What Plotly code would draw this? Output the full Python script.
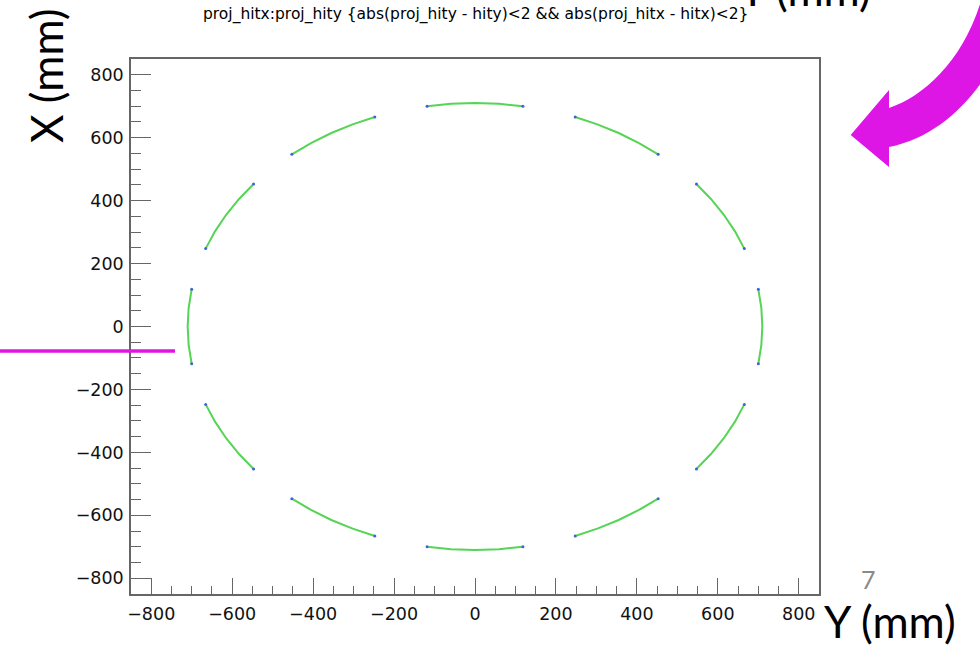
import plotly.graph_objects as go

# Projected hit positions (mm) along the 12 detector arcs.
# Each arc is listed from one end to the other; horizontal axis = proj_hity, vertical = proj_hitx
arc_hity = [
    [-118.4, -59.4, 0.0, 59.4, 118.4],
    [247.5, 302.3, 355.0, 405.2, 452.6],
    [547.1, 583.0, 614.9, 642.4, 665.5],
    [700.1, 707.5, 710.0, 707.5, 700.1],
    [665.5, 642.4, 614.9, 583.0, 547.1],
    [452.6, 405.2, 355.0, 302.3, 247.5],
    [118.4, 59.4, 0.0, -59.4, -118.4],
    [-247.5, -302.3, -355.0, -405.2, -452.6],
    [-547.1, -583.0, -614.9, -642.4, -665.5],
    [-700.1, -707.5, -710.0, -707.5, -700.1],
    [-665.5, -642.4, -614.9, -583.0, -547.1],
    [-452.6, -405.2, -355.0, -302.3, -247.5],
]
arc_hitx = [
    [700.1, 707.5, 710.0, 707.5, 700.1],
    [665.5, 642.4, 614.9, 583.0, 547.1],
    [452.6, 405.2, 355.0, 302.3, 247.5],
    [118.4, 59.4, 0.0, -59.4, -118.4],
    [-247.5, -302.3, -355.0, -405.2, -452.6],
    [-547.1, -583.0, -614.9, -642.4, -665.5],
    [-700.1, -707.5, -710.0, -707.5, -700.1],
    [-665.5, -642.4, -614.9, -583.0, -547.1],
    [-452.6, -405.2, -355.0, -302.3, -247.5],
    [-118.4, -59.4, 0.0, 59.4, 118.4],
    [247.5, 302.3, 355.0, 405.2, 452.6],
    [547.1, 583.0, 614.9, 642.4, 665.5],
]

title_text = "proj_hitx:proj_hity {abs(proj_hity - hity)<2 && abs(proj_hitx - hitx)<2}"
tick_vals = [-800, -600, -400, -200, 0, 200, 400, 600, 800]
axis_range = [-850, 850]

W, H = 980, 646
M_L, M_R, M_T, M_B = 131, 161, 59, 52
PW, PH = W - M_L - M_R, H - M_T - M_B


def px(xp):
    return (xp - M_L) / PW


def py(yp):
    return (H - M_B - yp) / PH


GREEN = "#55d455"
BLUE = "#3f63d8"
MAGENTA = "#dd15e5"
AXIS = "#666666"

fig = go.Figure()

for ys, xs in zip(arc_hity, arc_hitx):
    fig.add_trace(go.Scatter(
        x=ys, y=xs, mode="lines",
        line=dict(color=GREEN, width=2),
        hoverinfo="skip", showlegend=False,
    ))
    fig.add_trace(go.Scatter(
        x=[ys[0], ys[-1]], y=[xs[0], xs[-1]], mode="markers",
        marker=dict(color=BLUE, size=3),
        hoverinfo="skip", showlegend=False,
    ))

axis_common = dict(
    range=axis_range,
    tickvals=tick_vals,
    ticks="inside",
    tickcolor=AXIS,
    tickwidth=1.2,
    showgrid=False,
    zeroline=False,
    showline=True,
    linecolor=AXIS,
    linewidth=1.5,
    mirror=True,
    tickfont=dict(family="DejaVu Sans", size=17.5, color="#111111"),
)

fig.update_xaxes(**axis_common, ticklen=16,
                 minor=dict(ticks="inside", ticklen=8, dtick=50,
                            tickcolor=AXIS, tickwidth=1.2, showgrid=False),
                 ticklabelstandoff=3)
fig.update_yaxes(**axis_common, ticklen=20,
                 minor=dict(ticks="inside", ticklen=10, dtick=50,
                            tickcolor=AXIS, tickwidth=1.2, showgrid=False),
                 ticklabelstandoff=2)

# curved callout arrow (pixel outline converted to paper space)
def pt(xp, yp):
    return f"{px(xp):.5f},{py(yp):.5f}"

arrow_path = (
    f"M {pt(850.7, 135)} L {pt(889, 90)} L {pt(889, 108)} "
    f"C {pt(925, 96)} {pt(966, 58)} {pt(983, -6)} "
    f"L {pt(1010, -6)} L {pt(1010, 30)} "
    f"C {pt(990, 80)} {pt(950, 135)} {pt(889, 147)} "
    f"L {pt(889, 167)} Z"
)

shapes = [
    dict(type="path", xref="paper", yref="paper", path=arrow_path,
         fillcolor=MAGENTA, line=dict(width=0)),
    dict(type="line", xref="paper", yref="paper",
         x0=px(0), x1=px(175), y0=py(351), y1=py(351),
         line=dict(color=MAGENTA, width=3.5)),
]

label_font = dict(family="Lato", size=44, color="#000000")
annotations = [
    dict(text=title_text, xref="paper", yref="paper", x=px(475.5), y=py(15),
         xanchor="center", yanchor="middle", showarrow=False,
         font=dict(family="DejaVu Sans", size=15.5, color="#000000")),
    dict(text="X (mm)", xref="paper", yref="paper", x=px(46), y=py(76),
         xanchor="center", yanchor="middle", showarrow=False, textangle=-90,
         font=label_font),
    dict(text="Y (mm)", xref="paper", yref="paper", x=px(890), y=py(621),
         xanchor="center", yanchor="middle", showarrow=False, font=label_font),
    dict(text="Y (mm)", xref="paper", yref="paper", x=px(805), y=py(-11),
         xanchor="center", yanchor="middle", showarrow=False, font=label_font),
    dict(text="7", xref="paper", yref="paper", x=px(868), y=py(579),
         xanchor="center", yanchor="middle", showarrow=False,
         font=dict(family="Lato", size=25, color="#8a8a8a")),
]

fig.update_layout(
    width=W, height=H,
    margin=dict(l=M_L, r=M_R, t=M_T, b=M_B),
    paper_bgcolor="white", plot_bgcolor="white",
    shapes=shapes, annotations=annotations,
    showlegend=False,
)

fig.write_html("out.html")
